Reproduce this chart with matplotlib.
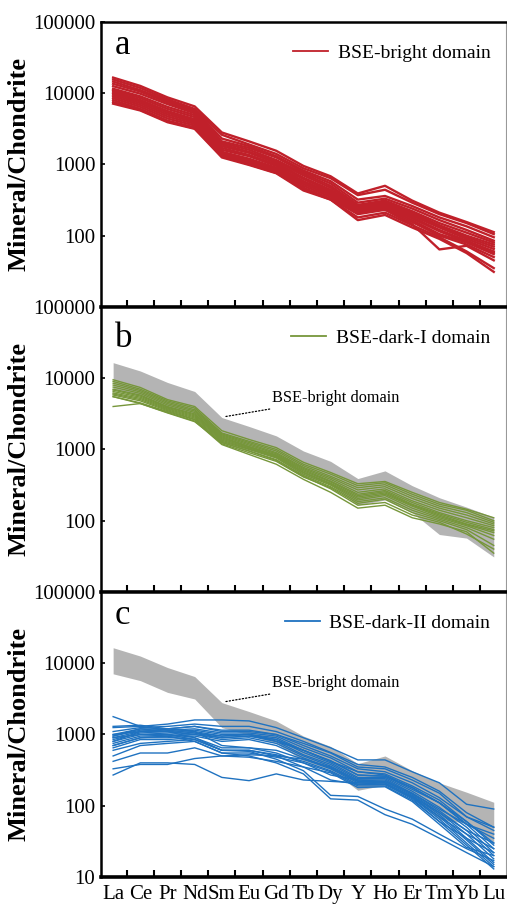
import matplotlib
matplotlib.use("Agg")
import matplotlib.pyplot as plt
import numpy as np

plt.rcParams['font.family'] = ['Liberation Serif', 'DejaVu Serif']

elements = ['La', 'Ce', 'Pr', 'Nd', 'Sm', 'Eu', 'Gd', 'Tb', 'Dy', 'Y', 'Ho', 'Er', 'Tm', 'Yb', 'Lu']

# BSE-bright domain (panel a)
bright = [
    [16500, 12600, 8700, 6500, 2800, 2100, 1550, 950, 680, 390, 500, 310, 210, 155, 112],
    [15500, 11800, 8200, 6000, 2600, 1900, 1400, 880, 640, 370, 440, 290, 200, 150, 105],
    [14500, 11000, 7800, 5800, 2300, 1800, 1300, 820, 580, 320, 360, 260, 180, 135, 95],
    [13500, 10500, 7400, 5500, 2100, 1700, 1250, 780, 540, 290, 330, 240, 165, 120, 85],
    [12500, 9800, 7000, 5200, 2000, 1600, 1150, 740, 500, 270, 310, 220, 150, 110, 80],
    [11500, 9000, 6400, 4900, 1900, 1500, 1100, 700, 470, 260, 300, 210, 140, 100, 75],
    [11000, 8500, 6000, 4600, 1800, 1450, 1050, 650, 440, 250, 290, 200, 135, 95, 70],
    [10500, 8000, 5600, 4300, 1700, 1350, 1000, 620, 420, 240, 280, 190, 130, 90, 65],
    [10000, 7600, 5300, 4100, 1600, 1300, 950, 580, 400, 230, 270, 180, 120, 85, 60],
    [9500, 7200, 5000, 3900, 1500, 1200, 900, 560, 390, 220, 260, 175, 115, 82, 58],
    [9000, 6800, 4700, 3700, 1450, 1150, 860, 530, 370, 215, 250, 165, 105, 80, 55],
    [8500, 6400, 4400, 3500, 1400, 1100, 820, 500, 350, 210, 240, 155, 100, 75, 50],
    [8000, 6000, 4100, 3300, 1350, 1050, 780, 470, 330, 200, 230, 145, 64, 72, 45],
    [7500, 5800, 4000, 3200, 1300, 1000, 760, 450, 320, 180, 210, 140, 95, 60, 35],
    [7100, 5700, 3900, 3150, 1250, 980, 750, 430, 320, 165, 195, 130, 90, 57, 31],
]

# BSE-dark-I domain (panel b)
dark1 = [
    [9500, 7400, 5000, 4000, 1830, 1380, 1060, 660, 475, 330, 355, 250, 180, 145, 110],
    [9000, 7000, 4800, 3800, 1700, 1300, 1000, 620, 450, 310, 340, 235, 170, 140, 100],
    [8500, 6700, 4600, 3600, 1650, 1250, 950, 590, 420, 290, 320, 220, 160, 130, 95],
    [8000, 6400, 4400, 3450, 1600, 1200, 900, 560, 400, 270, 300, 205, 150, 120, 90],
    [7500, 6100, 4200, 3300, 1550, 1150, 870, 540, 380, 250, 280, 190, 140, 110, 85],
    [7000, 5800, 4000, 3150, 1500, 1100, 840, 520, 360, 235, 265, 180, 130, 100, 80],
    [6800, 5600, 3900, 3050, 1450, 1080, 820, 500, 350, 225, 255, 170, 125, 95, 75],
    [6500, 5400, 3800, 2950, 1400, 1050, 800, 480, 335, 215, 245, 165, 120, 90, 72],
    [6200, 5200, 3700, 2850, 1350, 1020, 780, 470, 325, 205, 235, 160, 115, 88, 68],
    [6000, 5000, 3600, 2750, 1300, 1000, 760, 450, 315, 195, 225, 150, 110, 85, 62],
    [5800, 4800, 3500, 2650, 1250, 950, 720, 430, 300, 185, 210, 140, 105, 80, 55],
    [5500, 4500, 3400, 2600, 1200, 900, 680, 410, 290, 175, 200, 130, 100, 75, 45],
    [5500, 4400, 3300, 2500, 1170, 850, 620, 380, 250, 150, 165, 110, 90, 70, 35],
    [4000, 4400, 3250, 2450, 1250, 950, 700, 420, 280, 165, 180, 120, 95, 65, 40],
]

# BSE-dark-II domain (panel c)
dark2 = [
    [1780, 1300, 1150, 1050, 950, 1000, 800, 600, 420, 300, 270, 180, 110, 60, 30],
    [1250, 1300, 1400, 1600, 1600, 1550, 1250, 900, 650, 440, 440, 300, 210, 105, 90],
    [1100, 1250, 1300, 1400, 1300, 1300, 1100, 800, 560, 380, 350, 250, 160, 80, 50],
    [1000, 1200, 1200, 1300, 1100, 1100, 1000, 700, 500, 330, 300, 210, 130, 70, 45],
    [950, 1150, 1150, 1200, 1050, 1050, 950, 650, 470, 300, 280, 190, 120, 60, 28],
    [900, 1100, 1100, 1150, 1000, 1000, 900, 600, 430, 270, 260, 170, 110, 55, 25],
    [850, 1050, 1050, 1100, 950, 1000, 850, 560, 400, 250, 250, 160, 95, 50, 22],
    [800, 1000, 1000, 1050, 900, 950, 800, 520, 380, 240, 240, 150, 85, 45, 20],
    [750, 950, 950, 1000, 850, 900, 750, 500, 360, 230, 230, 145, 80, 40, 18],
    [700, 900, 900, 950, 800, 850, 700, 470, 340, 220, 220, 140, 75, 35, 16],
    [650, 850, 850, 900, 650, 650, 600, 450, 330, 210, 210, 135, 70, 33, 15],
    [600, 750, 800, 850, 600, 600, 520, 420, 310, 200, 200, 130, 65, 30, 14],
    [500, 700, 750, 800, 550, 550, 480, 400, 300, 190, 190, 120, 60, 28, 13],
    [420, 550, 550, 650, 500, 480, 420, 350, 290, 180, 185, 115, 55, 26, 20],
    [330, 380, 380, 460, 500, 520, 500, 450, 350, 220, 210, 130, 70, 40, 25],
    [270, 400, 400, 380, 250, 225, 280, 230, 220, 210, 200, 125, 60, 35, 22],
    [1300, 1350, 1200, 1100, 700, 650, 550, 400, 270, 230, 220, 150, 90, 55, 35],
    [950, 1200, 1100, 900, 600, 600, 500, 350, 230, 200, 200, 135, 80, 45, 30],
    [1000, 1100, 1000, 850, 600, 580, 450, 310, 140, 135, 90, 65, 40, 25, 17],
    [900, 1000, 950, 800, 550, 500, 400, 280, 125, 120, 75, 55, 35, 22, 14],
    [800, 1100, 1200, 1300, 1150, 1150, 1000, 750, 550, 350, 330, 230, 150, 70, 50],
    [700, 900, 950, 1000, 900, 950, 850, 600, 420, 270, 260, 180, 110, 55, 40],
]

panels = [
    ('a', bright, '#c0202a', 1.7, 'BSE-bright domain', False, 0.888),
    ('b', dark1, '#76963a', 1.0, 'BSE-dark-I domain', True, 0.86),
    ('c', dark2, '#1f72c0', 1.0, 'BSE-dark-II domain', True, 0.888),
]

x = np.arange(len(elements))
bright_arr = np.array(bright)
band_lo = bright_arr.min(axis=0)
band_hi = bright_arr.max(axis=0)

fig = plt.figure(figsize=(5.07, 9.05), dpi=100)
bottoms = [0.6609, 0.3459, 0.0309]

for (letter, data, color, lw, label, band, ly), b in zip(panels, bottoms):
    ax = fig.add_axes([0.199, b, 0.799, 0.315])
    if band:
        ax.fill_between(x, band_lo, band_hi, color='#b4b4b4', lw=0, zorder=1)
        ax.annotate('BSE-bright domain', xy=(4.15, 2900), xytext=(5.85, 5300),
                    fontsize=11.7, va='center', ha='left',
                    arrowprops=dict(arrowstyle='-', ls=':', lw=0.9, color='k',
                                    shrinkA=2, shrinkB=0))
    for row in data:
        ax.plot(x, row, color=color, lw=lw, zorder=2)
    ax.plot([], [], color=color, lw=1.3, label=label)
    ax.legend(loc='upper right', frameon=False, fontsize=14, handlelength=1.8,
              handletextpad=0.5, borderaxespad=0.3, bbox_to_anchor=(0.995, 0.97))

    ax.set_yscale('log')
    ax.set_ylim(10, 100000)
    ax.set_xlim(-0.45, 14.45)
    if letter == 'c':
        ax.set_yticks([10, 100, 1000, 10000, 100000])
        ax.set_yticklabels(['10', '100', '1000', '10000', '100000'])
        ax.set_xticks(x)
        ax.set_xticklabels(elements, fontsize=15)
    else:
        ax.set_yticks([100, 1000, 10000, 100000])
        ax.set_yticklabels(['100', '1000', '10000', '100000'])
        ax.set_xticks(x)
        ax.set_xticklabels([])
    ax.yaxis.set_minor_locator(matplotlib.ticker.NullLocator())
    ax.set_xticks(x[:-1] + 0.5, minor=True)
    ax.tick_params(axis='x', which='major', length=0, pad=6)
    ax.tick_params(axis='x', which='minor', direction='in', length=5, width=1.5)
    ax.tick_params(axis='y', which='major', direction='in', length=3, width=1.2,
                   labelsize=15, pad=4)

    ax.spines['bottom'].set_linewidth(2.6)
    ax.spines['left'].set_linewidth(1.8)
    ax.spines['top'].set_linewidth(1.8)
    ax.spines['right'].set_linewidth(0.8)
    ax.spines['right'].set_color('#999999')

    ax.text(0.035, ly, letter, transform=ax.transAxes, fontsize=25,
            ha='left', va='baseline')
    ax.set_ylabel('Mineral/Chondrite', fontsize=19, fontweight='bold')
    ax.yaxis.set_label_coords(-0.175, 0.5)

fig.savefig('out.png', dpi=100)
